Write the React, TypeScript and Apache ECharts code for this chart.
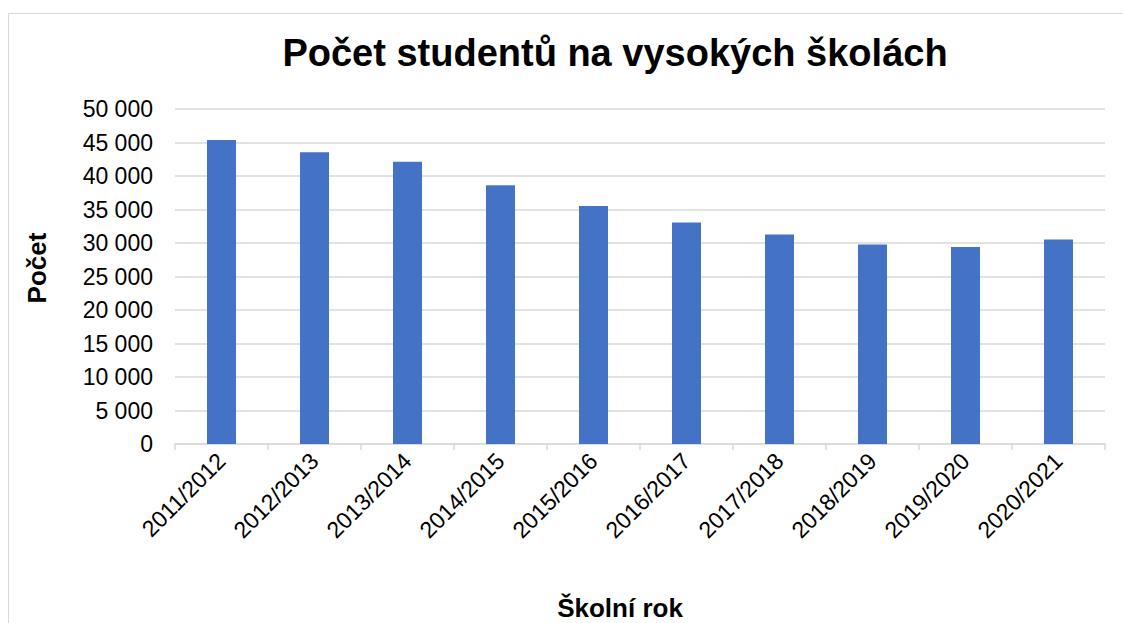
import React, { useEffect, useRef } from "react";
import * as echarts from "echarts";

const categories = [
  "2011/2012", "2012/2013", "2013/2014", "2014/2015", "2015/2016",
  "2016/2017", "2017/2018", "2018/2019", "2019/2020", "2020/2021",
];
const students = [45360, 43560, 42110, 38610, 35540, 33050, 31260, 29760, 29400, 30510];
const titleText = "Počet studentů na vysokých školách";
const yName = "Počet";
const xName = "Školní rok";

const fmt = (v: number) => String(v).replace(/\B(?=(\d{3})+(?!\d))/g, " ");

export default function App() {
  const ref = useRef<HTMLDivElement>(null);
  useEffect(() => {
    const chart = echarts.init(ref.current!, null, { renderer: "svg" });
    const font = "'Liberation Sans', Arial, sans-serif";
    chart.setOption({
      animation: false,
      backgroundColor: "#fff",
      textStyle: { fontFamily: font },
      grid: { left: 175, right: 18, top: 109, bottom: 179, containLabel: false },
      xAxis: {
        type: "category",
        data: categories,
        boundaryGap: true,
        axisLine: { lineStyle: { color: "#d9d9d9", width: 1.5 } },
        axisTick: { show: true, length: 6, lineStyle: { color: "#d9d9d9", width: 1.5 } },
        axisLabel: { rotate: 45, color: "#000", fontSize: 23, fontFamily: font, margin: 13, interval: 0 },
      },
      yAxis: {
        type: "value",
        min: 0,
        max: 50000,
        interval: 5000,
        axisLine: { show: false },
        axisTick: { show: false },
        splitLine: { lineStyle: { color: "#d9d9d9", width: 1.5 } },
        axisLabel: { color: "#000", fontSize: 23, fontFamily: font, margin: 22, formatter: fmt },
      },
      series: [
        {
          type: "bar",
          data: students,
          barWidth: 29,
          itemStyle: { color: "#4472C4" },
        },
      ],
      graphic: [
        {
          type: "rect",
          shape: { x: 8.5, y: 13.5, width: 1130, height: 630 },
          style: { fill: "none", stroke: "#d9d9d9", lineWidth: 1 },
          silent: true,
        },
        {
          type: "text",
          x: 615,
          y: 53,
          style: {
            text: titleText,
            font: `bold 38px ${font}`,
            fill: "#000",
            textAlign: "center",
            textVerticalAlign: "middle",
          },
        },
        {
          type: "text",
          x: 37,
          y: 268,
          rotation: Math.PI / 2,
          style: {
            text: yName,
            font: `bold 26px ${font}`,
            fill: "#000",
            textAlign: "center",
            textVerticalAlign: "middle",
          },
        },
        {
          type: "text",
          x: 620,
          y: 608,
          style: {
            text: xName,
            font: `bold 26px ${font}`,
            fill: "#000",
            textAlign: "center",
            textVerticalAlign: "middle",
          },
        },
      ],
    });
    return () => chart.dispose();
  }, []);
  return (
    <div
      ref={ref}
      style={{ position: "fixed", left: 0, top: 0, width: 1123, height: 623 }}
    />
  );
}
